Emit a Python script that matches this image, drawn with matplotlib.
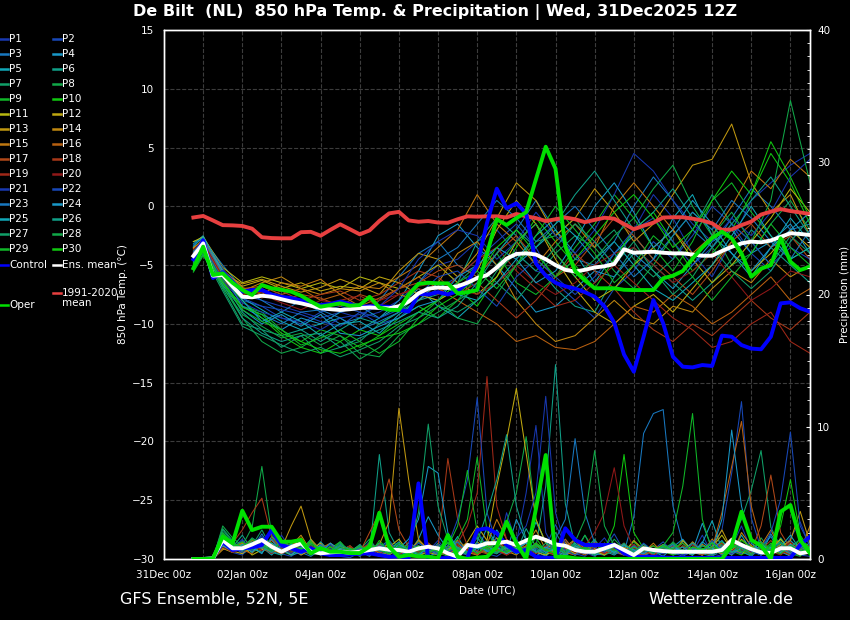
import matplotlib
matplotlib.use('Agg')
import matplotlib.pyplot as plt
from matplotlib.lines import Line2D
from matplotlib.ticker import MultipleLocator
import numpy as np

# time axis in days since 31Dec 00z, run 31Dec 12Z, 6-hourly from +6h to +384h
t6 = 0.75 + 0.25 * np.arange(64)
# members are given every 12 h (plus the first step)
t12 = np.r_[0.75, np.arange(1.0, 16.51, 0.5)]

date_ticks = [0, 2, 4, 6, 8, 10, 12, 14, 16]
date_labels = ['31Dec 00z', '02Jan 00z', '04Jan 00z', '06Jan 00z', '08Jan 00z',
               '10Jan 00z', '12Jan 00z', '14Jan 00z', '16Jan 00z']

# ---- bold lines, 850 hPa temperature (C), 6-hourly
clim_t = [-0.95, -0.82, -1.2, -1.6, -1.62, -1.67, -1.9, -2.63, -2.7, -2.72, -2.72, -2.2, -2.17, -2.5, -2.0, -1.53,
          -1.95, -2.38, -2.05, -1.25, -0.6, -0.47, -1.2, -1.31, -1.25, -1.38, -1.4, -1.1, -0.85, -0.88, -0.85, -0.85,
          -0.95, -0.65, -0.85, -1.0, -1.25, -1.1, -0.95, -1.1, -1.35, -1.15, -0.97, -1.05, -1.5, -1.95, -1.65, -1.39,
          -0.95, -0.93, -0.93, -1.05, -1.2, -1.45, -2.0, -1.97, -1.6, -1.3, -0.7, -0.45, -0.23, -0.4, -0.52, -0.65]
mean_t = [-4.22, -3.15, -5.9, -5.84, -6.8, -7.69, -7.74, -7.6, -7.69, -7.9, -8.1, -8.25, -8.45, -8.67, -8.75, -8.82,
          -8.75, -8.65, -8.6, -8.65, -8.67, -8.5, -8.1, -7.4, -7.0, -6.9, -6.95, -6.8, -6.5, -6.1, -5.85, -5.2,
          -4.45, -4.05, -4.0, -4.1, -4.5, -5.0, -5.4, -5.55, -5.4, -5.2, -5.1, -4.9, -3.65, -3.95, -3.9, -3.86,
          -3.95, -4.0, -4.0, -4.1, -4.2, -4.2, -3.8, -3.45, -3.15, -3.0, -3.06, -2.9, -2.6, -2.29, -2.35, -2.44]
ctrl_t = [-4.5, -2.9, -6.1, -5.6, -6.4, -7.26, -7.12, -7.12, -7.5, -7.7, -7.8, -8.0, -8.3, -8.4, -8.3, -8.1,
          -8.3, -8.54, -8.5, -8.5, -8.55, -8.8, -8.95, -7.45, -7.5, -7.3, -7.5, -7.2, -6.5, -5.0, -1.4, 1.5,
          -0.17, 0.26, -0.6, -4.85, -5.9, -6.5, -6.8, -7.0, -7.3, -7.69, -8.5, -9.9, -12.6, -14.07, -11.09, -7.97,
          -9.95, -12.8, -13.64, -13.7, -13.5, -13.58, -11.0, -11.09, -11.8, -12.1, -12.16, -11.09, -8.25, -8.17, -8.67, -8.96]
oper_t = [-5.27, -3.43, -5.84, -5.7, -6.5, -7.12, -7.54, -6.69, -6.97, -7.1, -7.26, -7.6, -8.1, -8.54, -8.4, -8.25,
          -8.45, -8.4, -7.7, -8.6, -8.8, -8.82, -7.5, -6.6, -6.5, -6.55, -6.55, -7.4, -7.3, -7.12, -4.0, -1.1,
          -1.59, -1.0, -0.5, 2.3, 5.07, 3.2, -3.4, -5.5, -6.3, -6.97, -6.97, -6.97, -7.1, -7.12, -7.12, -7.12,
          -6.12, -5.9, -5.5, -4.45, -3.5, -2.7, -2.16, -2.72, -4.0, -5.99, -5.3, -5.0, -2.72, -4.71, -5.42, -5.13]

# ---- bold lines, 6-hourly precipitation (mm)
mean_p = [0, 0, 0.05, 1.44, 0.81, 0.81, 1.1, 1.44, 0.93, 0.55, 0.9, 1.19, 0.55, 0.43, 0.5, 0.55,
          0.48, 0.55, 0.68, 0.81, 0.7, 0.68, 0.55, 0.8, 0.93, 0.8, 0.43, 0.17, 1.06, 0.95, 1.19, 1.2,
          1.31, 1.06, 1.4, 1.69, 1.44, 1.1, 1.0, 0.68, 0.55, 0.55, 0.8, 1.06, 0.68, 0.3, 0.81, 0.68,
          0.6, 0.55, 0.55, 0.55, 0.55, 0.55, 0.68, 1.44, 1.06, 0.75, 0.5, 0.45, 0.81, 0.81, 0.43, 0.55]
ctrl_p = [0, 0, 0.05, 1.31, 0.68, 0.8, 0.88, 1.06, 2.19, 1.06, 0.81, 0.55, 0.81, 0.43, 0.3, 0.3,
          0.35, 0.4, 0.43, 0.3, 0.17, 0.2, 0.08, 5.72, 0, 0.05, 0.08, 0, 0.08, 2.19, 2.32, 1.94,
          1.06, 0.55, 0.68, 0.17, 0.08, 0.1, 2.32, 1.44, 1.06, 1.06, 1.06, 1.06, 0.43, 0.17, 0.17, 0.17,
          0.1, 0.08, 0.08, 0.08, 0.08, 0.08, 0.08, 0.08, 0.08, 0.08, 0.08, 0.08, 0.08, 0.08, 1.06, 1.69]
oper_p = [0, 0, 0.05, 1.69, 1.19, 3.65, 2.19, 2.44, 2.44, 1.31, 1.31, 1.44, 0.43, 0.81, 0.55, 0.55,
          0.45, 0.45, 0.93, 3.5, 0.93, 0.17, 0.3, 0.2, 0.17, 0.08, 1.81, 0.17, 0, 0.1, 0.17, 0.93,
          2.82, 1.19, 0, 3.8, 7.86, 0.17, 0.17, 0.05, 0, 0, 0, 0, 0, 0, 0, 0,
          0, 0, 0, 0, 0, 0, 0, 1.0, 3.58, 1.44, 1.0, 0, 3.58, 4.08, 1.44, 0.43]

# ---- ensemble members, temperature every 12 h
temp_p1 = [-3.5,-3.0,-5.5,-7.5,-8.0,-8.5,-9.0,-9.5,-9.0,-9.5,-9.0,-8.0,-6.5,-5.0,-4.5,-3.0,-2.0,-4.0,-5.5,-6.0,-4.5,-3.0,-5.0,-2.0,1.0,-1.0,-4.0,-6.0,-3.0,0.5,2.0,3.5,4.5]
temp_p2 = [-4.0,-3.2,-6.0,-8.0,-8.5,-9.5,-10.0,-9.0,-8.5,-9.0,-10.0,-9.5,-8.0,-7.0,-6.0,-4.5,-3.0,-1.5,-3.5,-6.5,-8.0,-9.5,-7.0,-5.5,-3.0,-4.5,-2.5,0.0,-1.5,-4.0,-5.5,-3.0,-1.0]
temp_p3 = [-3.0,-2.8,-5.0,-7.0,-8.0,-9.0,-8.0,-9.0,-10.0,-9.5,-8.0,-6.0,-4.0,-3.0,-5.0,-6.0,-4.0,-2.0,0.5,-2.0,-4.5,-5.0,-3.0,0.0,2.5,0.5,-2.0,-3.5,-1.0,1.5,0.0,-2.0,-1.5]
temp_p4 = [-4.5,-3.5,-6.5,-8.5,-9.5,-10.5,-9.5,-10.0,-9.0,-8.5,-9.5,-8.0,-5.5,-2.5,-1.5,-3.5,-5.0,-7.0,-9.0,-8.5,-7.0,-5.5,-6.0,-4.0,-5.5,-7.0,-5.0,-3.0,-2.0,-4.0,-3.0,-1.5,-4.0]
temp_p5 = [-3.2,-2.5,-5.8,-7.8,-8.8,-9.8,-10.5,-10.0,-9.5,-10.5,-9.5,-8.5,-7.0,-8.5,-9.5,-8.0,-6.5,-5.0,-3.5,-2.0,-4.0,-6.5,-4.0,-2.5,-4.5,-1.0,1.0,-2.5,-4.0,-6.0,-3.5,-1.0,-3.0]
temp_p6 = [-3.8,-3.0,-6.2,-9.0,-10.5,-11.0,-10.5,-11.5,-10.5,-9.5,-10.0,-9.0,-8.0,-7.5,-6.5,-3.0,-1.0,-2.5,-5.0,-7.0,-8.5,-9.0,-6.0,-3.5,-5.0,-6.5,-8.0,-6.5,-4.5,-2.0,-3.5,-5.0,-6.5]
temp_p7 = [-5.0,-3.8,-7.0,-10.0,-10.5,-12.0,-11.0,-12.5,-12.0,-11.5,-10.0,-9.0,-7.5,-8.0,-6.5,-5.0,-6.5,-8.0,-6.0,-4.0,-2.5,-3.5,-2.0,-4.5,-6.0,-4.5,-2.0,1.0,-1.5,-3.0,-5.0,-2.5,-4.0]
temp_p8 = [-4.8,-3.5,-6.8,-9.5,-11.5,-12.5,-12.0,-11.0,-11.5,-13.0,-12.0,-10.5,-9.0,-8.0,-9.5,-10.0,-7.5,-5.0,-3.0,-2.5,-1.0,-3.5,-5.5,-7.0,-5.0,-2.5,-0.5,-2.0,-5.0,-4.0,-1.5,0.5,-2.0]
temp_p9 = [-5.5,-4.0,-6.5,-8.5,-9.0,-10.5,-11.5,-10.5,-11.0,-12.0,-11.0,-9.5,-8.5,-9.5,-8.0,-6.0,-4.0,-6.5,-7.5,-6.0,-3.5,-1.5,1.0,-1.0,-3.5,-5.5,-3.0,0.5,2.0,-0.5,-2.5,-4.5,-3.5]
temp_p10 = [-5.2,-3.6,-6.2,-8.0,-9.5,-11.0,-12.0,-12.5,-11.5,-10.5,-11.0,-10.0,-9.0,-8.0,-7.0,-8.5,-6.0,-3.5,-1.0,-3.0,-5.0,-7.0,-4.5,-2.0,-0.5,-3.0,-5.5,-4.0,-2.0,1.0,4.5,2.0,-1.5]
temp_p11 = [-3.0,-2.6,-5.2,-6.5,-6.0,-6.5,-7.0,-6.5,-7.0,-6.0,-6.5,-7.0,-6.0,-5.0,-6.5,-7.5,-6.0,-3.0,-1.5,-4.0,-6.0,-8.0,-7.0,-5.0,-3.5,-2.0,-4.5,-6.5,-5.0,-3.0,-1.0,1.5,-0.5]
temp_p12 = [-3.5,-2.9,-5.5,-6.8,-6.3,-7.0,-6.5,-7.2,-6.8,-7.0,-6.0,-6.5,-7.5,-8.0,-7.0,-5.5,-2.0,0.5,-1.5,-4.5,-7.0,-9.0,-10.0,-8.5,-7.5,-9.0,-7.0,-5.0,-3.0,-5.5,-4.0,-2.0,-3.5]
temp_p13 = [-4.2,-3.2,-5.7,-6.6,-6.2,-6.8,-7.3,-6.9,-6.2,-6.8,-7.5,-5.5,-4.0,-4.5,-6.0,-4.0,-1.0,2.0,0.5,-2.5,-1.0,1.5,-0.5,-3.0,-1.5,1.0,3.5,4.0,7.0,2.0,-0.5,1.0,-2.5]
temp_p14 = [-4.0,-3.0,-6.0,-7.2,-6.5,-6.0,-7.0,-7.5,-7.0,-7.2,-6.5,-7.5,-8.0,-6.5,-4.0,-3.0,-5.0,-8.0,-10.0,-11.5,-11.0,-9.5,-8.0,-9.5,-10.0,-8.5,-9.0,-7.0,-5.5,-6.5,-4.5,-6.0,-5.0]
temp_p15 = [-3.6,-2.8,-5.4,-6.9,-7.5,-6.5,-6.8,-6.2,-7.5,-6.8,-7.0,-6.0,-5.0,-3.5,-2.0,1.0,-1.5,-3.0,-5.0,-3.0,-1.5,-3.5,0.0,2.0,0.0,-2.0,-4.0,-2.5,0.0,3.0,1.5,4.0,2.5]
temp_p16 = [-4.4,-3.4,-5.9,-7.0,-6.8,-7.5,-7.0,-8.0,-7.5,-8.5,-7.8,-7.0,-6.0,-7.0,-8.0,-9.0,-10.0,-11.5,-11.0,-12.0,-12.2,-11.5,-10.0,-8.5,-9.0,-7.5,-8.5,-10.0,-9.0,-7.5,-6.0,-8.0,-7.0]
temp_p17 = [-4.6,-3.3,-5.6,-7.5,-7.0,-8.0,-7.5,-7.8,-8.5,-7.5,-8.0,-7.0,-6.5,-5.5,-5.0,-6.0,-4.0,-2.5,-4.5,-6.0,-5.0,-3.0,-1.0,-2.5,-4.5,-6.0,-7.5,-5.5,-3.0,-1.5,-3.5,-2.5,-4.5]
temp_p18 = [-3.9,-3.1,-6.4,-7.2,-7.8,-7.2,-8.0,-7.5,-7.2,-8.0,-7.5,-6.5,-5.5,-6.0,-7.5,-6.5,-8.0,-9.5,-8.0,-6.0,-4.0,-5.5,-7.0,-9.0,-10.5,-11.5,-10.0,-11.0,-9.5,-8.0,-9.5,-10.5,-9.0]
temp_p19 = [-4.1,-3.5,-6.6,-7.5,-7.3,-7.8,-8.2,-8.5,-8.0,-7.6,-8.5,-7.5,-7.0,-7.5,-6.0,-4.5,-3.5,-5.5,-7.0,-8.5,-8.0,-6.5,-5.0,-6.5,-8.0,-9.5,-10.5,-12.0,-11.5,-10.0,-9.0,-11.5,-12.5]
temp_p20 = [-3.7,-3.0,-6.0,-7.8,-7.5,-8.2,-8.8,-8.0,-8.3,-8.8,-8.0,-7.5,-6.8,-6.5,-7.0,-7.5,-6.5,-5.0,-6.5,-7.5,-6.5,-5.0,-4.0,-3.5,-5.0,-6.5,-5.5,-4.0,-6.0,-8.0,-7.0,-5.5,-6.0]
temp_p21 = [-4.3,-3.3,-6.3,-8.2,-9.0,-9.5,-9.8,-10.5,-9.5,-9.2,-8.5,-7.0,-4.5,-3.0,-2.0,-2.5,-4.5,-3.0,-0.5,-2.5,-4.0,-2.0,1.0,4.5,3.0,0.5,-1.5,-3.0,-1.0,-2.5,-0.5,2.5,4.0]
temp_p22 = [-3.3,-2.7,-5.3,-7.8,-8.5,-8.8,-9.2,-9.8,-10.2,-9.0,-9.5,-8.8,-7.5,-6.0,-5.5,-7.0,-8.5,-6.0,-4.5,-6.0,-7.5,-6.0,-4.0,-2.0,-1.0,-3.0,-5.0,-3.5,-1.5,-3.0,-5.0,-3.5,-4.5]
temp_p23 = [-3.9,-2.9,-5.7,-8.5,-9.2,-10.0,-9.0,-8.8,-9.5,-10.5,-9.8,-9.0,-6.5,-4.5,-3.5,-1.5,0.5,-1.0,-3.0,-1.5,0.0,-2.0,-4.0,-6.0,-4.5,-2.5,-0.5,-2.0,0.5,-1.0,-3.0,-4.5,-2.0]
temp_p24 = [-4.7,-3.7,-6.7,-8.8,-10.0,-9.2,-10.2,-9.2,-10.8,-11.0,-10.2,-9.5,-8.5,-8.0,-6.0,-5.0,-3.5,-4.5,-6.5,-5.5,-3.0,0.0,2.0,-0.5,-3.5,-2.0,0.5,-1.5,-4.0,-5.5,-3.5,-2.0,-0.5]
temp_p25 = [-3.4,-2.6,-5.5,-8.0,-9.8,-9.0,-9.8,-11.0,-10.0,-9.8,-10.8,-9.2,-8.0,-6.5,-7.5,-8.0,-6.5,-4.5,-2.5,-1.0,-2.5,-4.5,-3.0,-5.0,-7.0,-8.0,-6.5,-5.0,-2.5,0.0,-2.5,-4.5,-3.5]
temp_p26 = [-4.5,-3.4,-6.5,-9.5,-10.8,-11.5,-11.0,-10.8,-12.0,-11.2,-10.5,-9.8,-9.0,-9.5,-8.5,-6.5,-4.0,-2.0,-3.5,-1.5,1.0,3.0,0.5,-2.0,-0.5,1.5,-1.0,-3.5,-1.5,0.5,2.5,0.0,-2.5]
temp_p27 = [-5.4,-4.1,-7.2,-10.2,-11.0,-11.8,-12.5,-12.0,-12.8,-12.2,-11.5,-10.2,-9.5,-8.5,-9.0,-8.0,-5.5,-4.0,-5.5,-3.5,-1.5,-3.0,-5.0,-3.0,-5.5,-7.5,-6.0,-3.5,-5.5,-7.0,-5.5,-3.0,-1.0]
temp_p28 = [-4.9,-3.9,-6.9,-9.2,-10.2,-11.2,-10.8,-11.8,-11.0,-12.5,-12.8,-11.0,-10.0,-9.0,-8.0,-7.0,-5.0,-3.0,-1.5,-4.0,-6.0,-4.5,-2.5,-1.0,1.5,3.5,0.0,-2.5,-0.5,-3.0,0.5,9.0,2.0]
temp_p29 = [-5.6,-4.2,-6.6,-8.8,-9.8,-10.5,-11.8,-11.2,-10.5,-11.5,-12.5,-11.5,-9.5,-8.0,-6.5,-5.5,-7.0,-5.0,-2.5,0.0,-2.0,-4.0,-6.5,-5.0,-2.5,-4.0,-6.0,-8.0,-6.0,-4.0,-1.5,-3.5,-5.0]
temp_p30 = [-5.1,-3.8,-6.4,-8.6,-9.2,-10.8,-11.5,-12.2,-12.5,-11.8,-11.2,-10.8,-10.0,-8.5,-7.5,-6.0,-3.5,-2.0,-4.0,-6.0,-4.5,-2.5,-0.5,1.0,-1.0,-3.5,-2.0,0.5,3.0,1.0,5.5,2.5,-1.0]

# ---- ensemble members, 6-hourly precipitation
prec_p1 = [0,0,.1,1.2,.8,1.5,.6,1.0,.4,1.8,.7,.3,.9,.5,.2,.6,
           .4,.8,.3,1.1,.5,.2,.9,.3,.6,1.4,.5,.2,.8,2.1,1.0,.4,
           3.5,1.2,5.0,10.1,2.0,.6,1.5,.4,.2,.8,1.6,.5,.3,1.0,.4,.2,
           .6,1.2,.3,.5,1.8,.4,.2,.9,2.5,.7,.3,1.1,.5,1.6,2.8,.9]
prec_p2 = [0,0,0,.9,.5,.3,1.2,.6,1.5,.4,.2,.7,1.1,.3,.5,.2,
           .1,.5,1.3,.6,.2,.4,.8,.2,.1,.6,1.2,.5,.3,.9,.4,.2,
           .7,1.5,.4,.2,.9,2.6,1.1,.3,.5,.2,.8,1.9,.6,.2,.4,.7,
           1.3,.5,.2,.6,.3,.9,2.2,6.5,11.9,3.1,.8,.4,1.5,.6,.3,.2]
prec_p3 = [0,0,.1,1.6,1.0,.4,.8,1.9,.6,.3,1.2,.5,.2,.7,.4,1.0,
           .3,.6,.2,.9,1.4,.5,.3,.8,.2,.5,1.0,.4,.7,1.6,.6,.9,
           .4,1.3,.5,.2,.7,1.1,.3,.6,1.8,.4,.3,.9,.5,3.2,9.5,11.0,
           11.3,4.0,1.2,.5,.3,.8,.4,1.4,.6,.2,.9,1.7,.5,.3,1.1,.6]
prec_p4 = [0,0,0,1.1,.6,1.3,.9,.4,1.7,.8,.3,.5,1.4,.6,.2,.4,
           .8,.3,.5,.2,1.0,.6,.4,1.5,3.2,1.8,.7,.3,1.2,.5,2.4,1.0,
           .5,3.0,1.4,.6,.2,.9,.4,1.6,.7,.3,.5,1.1,.4,.8,.3,.6,
           .2,.9,1.5,.6,2.7,.8,.3,1.0,.4,.7,.3,1.9,.6,.2,.5,1.3]
prec_p5 = [0,0,.1,2.0,1.2,.7,1.5,.9,.3,1.1,.6,.8,.4,1.3,.5,.3,
           .6,.2,.9,.4,.7,1.3,.5,.2,.8,.3,.6,1.7,.4,1.0,.5,2.2,
           1.1,.4,.7,2.8,1.3,.5,.2,.9,.4,1.4,.6,.3,.8,.5,.2,.7,
           1.0,.4,.6,.3,1.2,2.9,.7,.4,1.8,.6,.3,.9,.5,1.4,.7,.4]
prec_p6 = [0,0,0,1.4,.9,1.8,.7,1.2,.5,.3,.9,.6,1.5,.4,.7,.3,
           .5,1.1,.4,7.9,2.0,.6,.3,.8,.5,1.2,.4,.7,.3,.9,1.4,.6,
           .8,.5,2.3,.9,5.5,14.7,4.2,1.0,.4,.7,.3,1.2,.5,.2,.6,.4,
           .9,.3,.5,1.1,.4,.2,.7,1.3,.5,.3,.8,.4,1.6,.6,.3,.5]
prec_p7 = [0,0,.1,2.3,1.4,.6,1.0,2.2,.8,.4,1.1,.7,.3,.9,.5,1.2,
           .4,.7,1.5,.5,.3,.9,.6,1.3,.4,.8,.2,.6,1.0,.4,.7,1.6,
           .5,.9,.3,1.2,.6,2.0,.8,.4,.7,1.5,.3,.6,.9,.4,.2,.8,
           .5,1.1,.4,.7,.3,.9,.6,1.4,3.0,5.2,8.2,2.4,.9,.5,1.3,.7]
prec_p8 = [0,0,0,2.5,1.6,1.0,2.4,7.0,1.8,.9,.5,1.3,.7,.4,1.0,.6,
           .3,.8,.5,1.2,.4,.9,.3,.6,1.1,.5,.2,.8,.4,1.7,.6,1.3,
           2.8,5.0,9.25,3.0,1.2,.5,.8,.3,1.0,.6,.4,1.5,.7,.3,.9,.5,
           .4,1.3,.6,.3,.8,.5,1.1,.4,.7,.3,1.6,.6,.9,.4,.2,1.0]
prec_p9 = [0,0,.1,1.9,1.1,.5,.9,1.6,1.2,.6,.3,.8,1.4,.5,.9,.4,
           .7,.3,1.0,.5,1.3,.6,.4,.9,.3,1.1,.6,1.5,3.0,7.7,2.1,.8,
           .6,1.4,.5,.9,.3,1.2,.7,.4,1.8,.6,.3,.9,.5,1.3,.6,.4,
           1.0,2.0,5.5,11.0,3.0,.6,.8,.3,1.2,.6,.9,.4,1.5,.7,.3,.8]
prec_p10 = [0,0,0,1.3,.7,1.2,.5,.9,1.5,.8,.4,1.1,.6,.3,.8,1.3,
            .5,.9,.3,1.4,.6,.4,1.0,.5,.8,.3,.7,1.2,.5,.9,.4,.6,
            1.0,.4,.7,1.6,.5,.3,.9,.6,.4,1.1,.7,2.5,7.9,2.0,.8,.4,
            .6,.3,1.0,.5,.8,.4,1.3,.6,.3,.9,.5,1.2,.7,.4,1.6,.8]
prec_p11 = [0,0,.1,.8,.5,1.0,.3,.7,1.2,.5,.9,1.6,.4,.8,.3,.6,
            1.0,.4,.7,.3,.9,1.5,.5,.2,.6,1.1,.4,.8,.3,1.3,.6,.9,
            .4,.7,1.2,.5,.3,.8,.4,1.0,.6,.3,.9,.5,1.1,.4,.7,.3,
            .8,.5,1.4,.6,.3,.9,1.8,.7,.4,1.0,.5,.8,1.5,.6,.3,.9]
prec_p12 = [0,0,0,1.0,.6,.4,1.1,.8,.5,1.4,.9,.3,.7,1.2,.4,.8,
            .5,.3,.9,.6,1.2,.4,.7,1.0,.5,.3,.8,.6,1.3,2.5,1.4,5.5,
            9.0,12.9,8.0,3.0,1.2,.5,.8,.4,1.1,.6,.3,.9,.5,1.4,.7,.4,
            .9,.4,.7,1.2,.5,.3,1.0,.6,1.5,.8,.4,.7,1.1,.5,.8,.4]
prec_p13 = [0,0,.1,1.2,.9,.6,1.4,1.0,.5,.8,2.5,4.0,1.5,.7,.4,1.0,
            .6,.9,.4,1.1,2.8,11.4,6.0,1.5,.7,.4,1.0,.5,.8,.3,.9,.6,
            .4,.8,.5,1.2,.6,.3,.9,1.5,.5,.8,.4,1.1,.6,.3,.7,1.0,
            .5,.8,.4,1.3,.6,.9,2.2,.7,.4,1.0,.6,.3,.9,1.4,3.6,1.2]
prec_p14 = [0,0,0,.7,1.1,.5,.9,1.3,.7,.4,1.0,1.8,.6,.9,.5,.3,
            .8,.4,1.2,.6,.3,.9,.5,1.4,.7,.4,.8,1.1,.5,.3,.9,1.6,
            .6,.3,1.0,2.2,.7,.5,1.3,.4,.8,.6,1.2,.4,.9,.5,.3,.7,
            1.1,.6,.4,.9,.5,1.5,.8,.3,2.0,1.0,.5,.8,.4,1.2,.6,2.5]
prec_p15 = [0,0,.1,1.5,.8,1.2,.6,.9,1.4,.7,.3,1.0,.5,.8,1.2,.4,
            .3,.7,1.0,.4,.8,.5,1.2,.6,.9,.3,.5,1.4,.8,.4,1.1,3.0,
            1.5,.7,.4,1.0,.6,1.3,.5,.3,.8,.4,1.1,.6,.3,.9,.5,1.2,
            .4,.9,.6,.3,1.1,.7,.4,1.6,.8,.5,1.0,2.2,.7,.4,.9,.6]
prec_p16 = [0,0,0,1.8,1.0,.7,.4,1.5,1.1,.6,.9,.5,1.3,.7,.4,.8,
            .5,1.0,.3,.7,1.1,.5,.8,.4,1.2,.6,.3,.9,.6,1.1,.4,.8,
            .3,.7,1.0,.5,.8,.4,1.5,.6,.3,.9,.5,1.2,.7,.4,.8,.5,
            .9,.4,.7,1.1,.5,.8,3.5,7.0,10.4,4.0,1.2,.6,.9,.5,1.3,.7]
prec_p17 = [0,0,.1,1.0,.7,1.3,.8,1.1,.5,.9,1.4,.6,.4,1.0,.7,.3,
            .9,.5,2.0,3.5,6.05,2.2,.9,.5,1.2,.6,.4,1.0,.7,.3,.8,1.3,
            .5,.9,.4,1.1,.6,.3,.8,1.4,.5,.9,.4,.7,1.2,.5,.3,.8,
            .6,1.0,.4,.8,.5,1.3,.7,.4,1.1,.6,2.5,6.35,2.0,.8,.5,1.1]
prec_p18 = [0,0,0,1.6,1.2,2.2,3.5,4.6,1.6,.8,.5,1.2,.7,.4,.9,.6,
            .4,.8,1.1,.5,.9,.4,1.3,.7,.5,.9,7.6,3.0,1.0,.6,.4,.8,
            1.2,.5,.8,.4,1.0,.6,.3,.9,.5,1.3,.7,.4,.8,.5,1.1,.4,
            .7,.4,1.0,.6,.3,.8,1.2,.5,.9,.4,.7,1.4,.6,.3,.8,.5]
prec_p19 = [0,0,.1,1.3,.6,1.0,1.5,.9,.4,1.2,.7,.5,1.0,.6,.3,.8,
            .5,.9,.4,1.1,.7,.3,.8,.5,1.0,.6,.4,1.2,2.5,5.0,13.8,4.0,
            1.5,.8,.4,1.0,.6,.3,.9,.5,1.2,.7,.4,.8,.5,1.1,.6,.3,
            .8,.5,1.2,.6,.4,.9,.5,1.3,.7,.4,1.0,.6,.3,.9,.5,1.1]
prec_p20 = [0,0,0,.9,.5,.8,1.2,.6,1.0,.4,.7,1.1,.5,.8,.3,.6,
            1.0,.4,.7,.3,.9,.5,1.2,.6,.4,.8,.5,1.1,.7,.4,.9,.6,
            .3,.8,.5,1.2,.6,.4,.9,.5,1.0,2.0,3.5,6.9,2.5,.8,.5,.6,
            .9,.4,.7,1.1,.5,.3,.8,.6,1.2,.5,.9,.4,.7,1.3,.6,.4]
prec_p21 = [0,0,.1,1.4,.9,.5,1.1,1.7,.6,.9,.4,1.0,.7,.3,.8,.5,
            .6,1.0,.4,.8,1.3,.5,.9,.4,.7,1.1,.5,.8,.3,1.2,.6,1.0,
            .5,1.6,2.5,5.0,12.3,3.5,1.0,.6,.4,.9,.5,1.2,.7,.3,.8,.5,
            1.0,.6,.3,.9,.5,1.4,.7,.4,1.1,.6,.3,.8,1.2,.5,.9,.4]
prec_p22 = [0,0,0,1.1,.8,1.4,.6,1.0,.5,1.3,.8,.4,.9,.6,1.1,.4,
            .7,.3,1.0,.6,.4,.9,.5,1.2,.8,.4,1.0,3.0,6.0,12.2,3.5,1.2,
            .6,1.0,.4,.8,.5,1.3,.7,.3,.9,.6,1.1,.4,.8,.5,1.2,.6,
            .4,.9,.5,1.2,.7,.3,1.0,.6,.4,1.5,.8,2.0,4.5,9.6,2.5,1.0]
prec_p23 = [0,0,.1,1.7,1.0,.6,1.2,.8,1.5,.5,.9,.7,.4,1.1,.6,1.0,
            .4,.8,.5,1.2,.6,.9,.4,1.0,.7,.3,.8,1.3,.5,.9,.6,.4,
            1.0,.6,1.3,.5,.8,1.5,3.0,9.1,3.5,1.2,.6,.9,.4,1.0,.5,.8,
            .6,1.1,.4,.8,.5,1.2,.7,.3,.9,.6,1.3,.5,.8,.4,1.0,.7]
prec_p24 = [0,0,0,1.2,.7,1.0,.5,1.3,.9,.6,1.1,.4,.8,.5,1.2,.7,
            .5,.9,.4,1.0,.6,.8,1.5,3.0,7.0,6.5,2.0,.8,.5,1.1,.6,.9,
            .4,.8,1.2,.5,.9,.6,.3,1.0,.7,.4,.9,.5,1.1,.6,.8,.4,
            1.0,.6,.9,.4,1.3,.7,3.0,9.75,4.0,1.2,.6,.9,.5,1.1,.7,.4]
prec_p25 = [0,0,.1,1.0,.6,1.1,.8,.5,1.2,.7,.3,.9,.6,1.0,.4,.8,
            .6,1.0,.5,.8,.4,1.1,.7,.3,.9,.5,1.2,.6,.4,.8,1.0,.5,
            .9,.4,.7,1.1,.5,.8,.4,1.2,.6,.3,.9,.5,1.0,.7,.4,.8,
            .5,.9,.6,.3,1.0,.7,1.4,.5,.8,.4,1.1,.6,.9,1.8,.7,.4]
prec_p26 = [0,0,0,1.5,1.0,.7,1.3,.9,.5,1.0,.7,1.4,.5,.8,.4,1.1,
            .7,.4,1.0,.6,.9,.5,1.2,.8,.4,1.0,.6,.9,.5,1.3,3.5,6.0,
            9.4,4.0,1.5,.7,.4,1.0,.6,.9,.5,1.2,.7,.4,.8,.5,1.1,.6,
            .9,.4,.7,1.2,.6,.3,.9,.5,1.1,.7,.4,.8,1.3,.6,.9,.5]
prec_p27 = [0,0,.1,2.2,1.3,.8,1.6,1.1,.7,1.4,.9,.6,1.2,.8,.5,1.0,
            .8,.5,1.1,.7,.4,1.0,.6,3.5,10.2,4.0,1.5,.8,.5,1.1,.7,.4,
            1.0,.6,.9,.5,1.2,.8,.4,1.1,.7,.3,.9,.6,1.2,.5,.8,.4,
            1.1,.7,.4,.9,.6,1.3,.5,.8,1.2,.7,.4,1.0,.6,.9,1.5,.8]
prec_p28 = [0,0,0,1.8,1.1,.6,1.0,1.4,.9,.5,1.2,.8,.4,.9,.6,1.3,
            .5,.9,.6,1.2,.7,.4,1.0,.6,.9,.5,1.3,.7,.4,1.0,.8,.5,
            1.1,.7,.4,1.0,.6,.9,.5,1.3,3.0,8.2,2.5,1.0,.6,.4,.9,.5,
            .8,1.2,.6,.4,1.0,.7,.5,1.1,.8,.4,.9,.6,1.2,.7,.5,1.0]
prec_p29 = [0,0,.1,2.0,1.2,.9,1.5,1.0,.6,1.3,.8,.5,1.1,.7,.4,.9,
            .6,1.0,.5,.9,.6,1.2,.8,.4,1.0,.6,.9,2.5,6.7,2.0,.8,1.2,
            .6,.9,.5,1.1,.7,.4,1.0,.6,.8,.5,1.2,.7,.4,.9,.6,1.0,
            .5,.8,1.2,.6,.4,.9,.7,1.1,.5,.8,1.3,.6,.4,1.0,.7,.5]
prec_p30 = [0,0,0,1.6,.9,1.3,.7,1.2,.8,.5,1.0,.7,1.3,.6,.9,.5,
            .8,.5,1.1,.7,.4,.9,.6,1.0,.5,.8,1.2,.6,.9,.4,1.0,.7,
            .5,.9,.6,1.2,.7,.4,1.0,.6,.9,.5,.8,1.1,.6,.4,.9,.7,
            1.0,.6,.4,.9,.7,1.2,.5,.8,1.4,.9,.5,1.0,2.5,6.0,1.8,.7]

temp_members = [temp_p1, temp_p2, temp_p3, temp_p4, temp_p5, temp_p6, temp_p7, temp_p8, temp_p9, temp_p10,
                temp_p11, temp_p12, temp_p13, temp_p14, temp_p15, temp_p16, temp_p17, temp_p18, temp_p19, temp_p20,
                temp_p21, temp_p22, temp_p23, temp_p24, temp_p25, temp_p26, temp_p27, temp_p28, temp_p29, temp_p30]
prec_members = [prec_p1, prec_p2, prec_p3, prec_p4, prec_p5, prec_p6, prec_p7, prec_p8, prec_p9, prec_p10,
                prec_p11, prec_p12, prec_p13, prec_p14, prec_p15, prec_p16, prec_p17, prec_p18, prec_p19, prec_p20,
                prec_p21, prec_p22, prec_p23, prec_p24, prec_p25, prec_p26, prec_p27, prec_p28, prec_p29, prec_p30]

# member colours: blue -> green -> yellow -> red, P21-P30 repeat P1-P10
base_colors = ['#1838b0', '#1848b8', '#1878c0', '#1898c8', '#10a8b8', '#10a088', '#10a068', '#10a848', '#10b828', '#10c810',
               '#b8b810', '#c0a810', '#c09810', '#c08810', '#c07810', '#b86010', '#b04818', '#a83818', '#a02818', '#901818']
member_colors = base_colors + base_colors[:10]

clim_col = '#e84040'
ctrl_col = '#0000ff'
mean_col = '#ffffff'
oper_col = '#00e000'

fig = plt.figure(figsize=(8.5, 6.2), dpi=100, facecolor='black')
ax = fig.add_axes([164 / 850, 61 / 620, 646 / 850, 529 / 620])
ax.set_facecolor('black')
ax2 = ax.twinx()

for i in range(30):
    vt = temp_members[i]
    vp = prec_members[i]
    ax.plot(t12[:len(vt)], vt, color=member_colors[i], lw=0.75, zorder=2)
    ax2.plot(t6[:len(vp)], vp, color=member_colors[i], lw=0.75, zorder=2)

ax.plot(t6, clim_t, color=clim_col, lw=2.8, zorder=5)
ax.plot(t6, ctrl_t, color=ctrl_col, lw=2.8, zorder=6)
ax.plot(t6, mean_t, color=mean_col, lw=2.8, zorder=7)
ax.plot(t6, oper_t, color=oper_col, lw=2.8, zorder=8)
ax2.plot(t6, ctrl_p, color=ctrl_col, lw=2.8, zorder=6)
ax2.plot(t6, mean_p, color=mean_col, lw=2.8, zorder=7)
ax2.plot(t6, oper_p, color=oper_col, lw=2.8, zorder=8)

ax.set_xlim(0, 16.5)
ax.set_ylim(-30, 15)
ax2.set_ylim(0, 40)
ax.set_yticks(np.arange(-30, 16, 5))
ax.set_xticks(date_ticks)
ax.set_xticklabels(date_labels)
ax.xaxis.set_minor_locator(MultipleLocator(1))
ax2.set_yticks([0, 10, 20, 30, 40])
ax2.yaxis.set_minor_locator(MultipleLocator(1))

ax.grid(True, which='major', axis='y', color='#3c3c3c', ls='--', lw=0.8)
ax.grid(True, which='both', axis='x', color='#3c3c3c', ls='--', lw=0.8)

for a in (ax, ax2):
    for s in a.spines.values():
        s.set_color('white')
        s.set_linewidth(1.0)
# no tick marks on the temperature / date axes, only labels
ax.tick_params(axis='both', which='both', length=0, colors='white', labelsize=7.5)
ax.tick_params(axis='y', pad=7)
ax.tick_params(axis='x', pad=8)
ax2.tick_params(axis='y', which='both', direction='in', colors='white', labelsize=7.5, pad=5)
ax2.tick_params(which='major', length=3)
ax2.tick_params(which='minor', length=2.5)

ax.set_ylabel('850 hPa Temp. (°C)', color='white', fontsize=7.5)
ax.yaxis.set_label_coords((128 - 164) / 646, 0.5)
ax2.set_ylabel('Precipitation (mm)', color='white', fontsize=7.5)
ax2.yaxis.set_label_coords((840 - 164) / 646, 0.5)
ax.set_xlabel('Date (UTC)', color='white', fontsize=7.5, labelpad=4)

fig.text(0.512, 0.981, 'De Bilt  (NL)  850 hPa Temp. & Precipitation | Wed, 31Dec2025 12Z',
         ha='center', va='center', fontsize=11.5, fontweight='bold', color='white')
fig.text(120 / 850, 1 - 599 / 620, 'GFS Ensemble, 52N, 5E', ha='left', va='center', fontsize=11.5, color='white')
fig.text(793 / 850, 1 - 599 / 620, 'Wetterzentrale.de', ha='right', va='center', fontsize=11.5, color='white')


# hand made legend on the left
def legend_entry(x, y, color, label, text_y=None):
    fy = 1 - y / 620
    ty = fy if text_y is None else 1 - text_y / 620
    fig.add_artist(Line2D([x / 850, (x + 8) / 850], [fy, fy], transform=fig.transFigure, color=color, lw=1.8))
    fig.text((x + 9) / 850, ty, label, ha='left', va='center', fontsize=7.5, color='white', linespacing=1.0)


for i in range(30):
    col = i % 2
    row = i // 2
    legend_entry(0 if col == 0 else 53, 39 + 15 * row, member_colors[i], 'P%d' % (i + 1))
legend_entry(0, 265, ctrl_col, 'Control')
legend_entry(53, 265, mean_col, 'Ens. mean')
legend_entry(53, 293, clim_col, '1991-2020\nmean', text_y=298.5)
legend_entry(0, 305, oper_col, 'Oper')

fig.savefig('out.png', dpi=100, facecolor='black')
